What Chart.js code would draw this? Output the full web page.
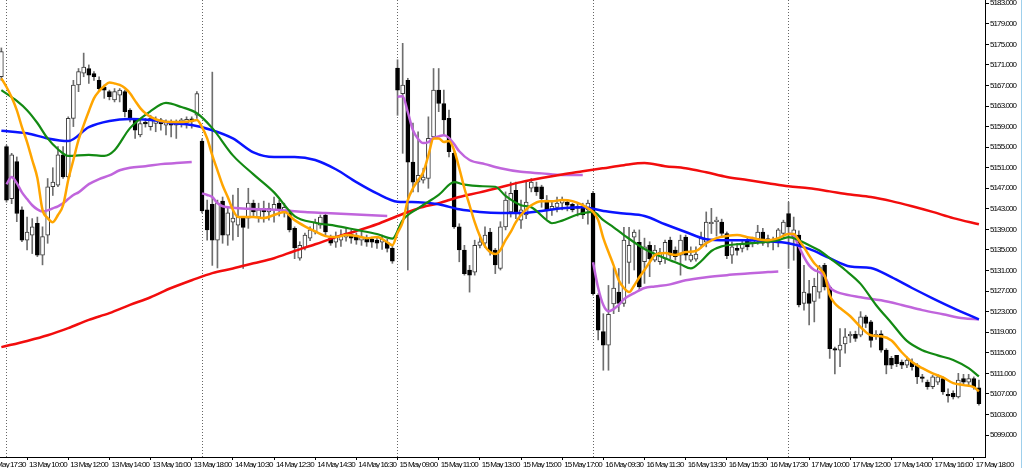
<!DOCTYPE html>
<html>
<head>
<meta charset="utf-8">
<script src="https://cdn.jsdelivr.net/npm/chart.js@4.4.1/dist/chart.umd.min.js"></script>
<style>
  html, body { margin: 0; padding: 0; background: #fff; }
  #wrap { position: relative; width: 1024px; height: 468px; }
  #edge { position: absolute; left: 1021px; top: 0; width: 1px; height: 468px; background: #9fd0ec; }
</style>
</head>
<body>
<div id="wrap"><canvas id="chart"></canvas><div id="edge"></div></div>
<script>
// 15 min bars, bar 0 = 13 May 09:00, first visible bar = 10 May 18:15
const firstBar = -1;

const open = [
  5168.7,
  // 13 May
  5155.1,5145.0,5152.2,5142.8,5136.9,5137.9,5140.2,5134.0,5137.9,5147.3,5147.6,5153.5,5149.2,5160.6,5167.1,5169.4,5170.3,5169.3,5168.0,
  5166.7,5165.8,5164.2,5165.1,5165.8,5162.2,5160.3,5157.4,5159.9,5159.0,5159.6,5160.3,5159.3,5159.6,5159.3,5159.6,5159.7,5160.5,5161.2,
  // 14 May
  5156.2,5142.8,5143.9,5136.9,5144.5,5137.9,5140.4,5139.8,5141.2,5141.2,5144.1,5141.4,5143.1,5142.4,5142.8,5144.1,5142.4,5142.2,5139.2,
  5133.4,5135.5,5137.3,5138.5,5139.8,5141.8,5137.3,5136.5,5136.9,5137.5,5138.1,5137.5,5136.9,5137.3,5137.1,5136.9,5136.5,5136.5,5135.3,
  // 15 May
  5170.4,5165.4,5168.0,5152.1,5148.2,5148.6,5148.9,5157.0,5166.1,5163.5,5160.6,5153.8,5139.5,5135.0,5131.1,5130.7,5135.9,5136.3,5138.5,
  5135.0,5131.4,5139.5,5142.4,5146.6,5140.8,5141.8,5147.0,5147.3,5147.3,5144.7,5142.9,5143.3,5144.1,5144.3,5143.9,5143.1,5143.1,5142.8,
  // 16 May
  5146.0,5126.2,5119.1,5116.5,5124.5,5126.8,5124.6,5132.6,5137.5,5136.5,5132.7,5135.9,5133.0,5132.7,5133.3,5136.9,5135.0,5134.0,5137.5,
  5133.0,5133.2,5136.0,5136.5,5140.1,5140.5,5140.4,5138.2,5134.0,5135.3,5135.3,5136.9,5136.3,5137.2,5138.5,5136.3,5136.5,5136.9,5138.2,
  // 17 May
  5142.1,5137.6,5137.9,5124.6,5126.5,5125.0,5126.8,5132.0,5127.8,5115.8,5115.5,5116.7,5118.3,5118.6,5118.4,5122.0,5121.0,5118.3,5118.7,
  5115.5,5113.9,5114.5,5113.2,5112.6,5113.2,5112.6,5110.3,5109.3,5108.4,5109.3,5110.0,5106.9,5107.1,5106.4,5110.0,5109.3,5110.0,5108.2
];
const high = [
  5174.3,
  5155.4,5153.8,5153.1,5143.4,5141.4,5141.1,5141.4,5139.5,5148.9,5151.0,5155.1,5155.1,5160.9,5168.0,5170.3,5173.3,5171.0,5169.7,5168.7,
  5167.1,5166.1,5166.4,5166.4,5166.1,5162.5,5160.6,5160.3,5160.6,5161.2,5160.9,5160.6,5160.3,5160.3,5160.3,5160.6,5160.9,5160.9,5165.8,
  5156.6,5144.7,5169.6,5144.7,5145.3,5143.1,5145.7,5147.0,5141.5,5147.0,5144.7,5144.1,5144.5,5144.1,5145.3,5144.7,5144.1,5142.8,5139.5,
  5136.6,5138.3,5139.5,5141.0,5141.8,5142.2,5137.9,5138.5,5138.9,5139.2,5138.9,5138.3,5138.5,5137.9,5137.5,5137.5,5137.9,5137.1,5135.7,
  5172.0,5175.2,5168.4,5159.7,5158.0,5150.9,5160.9,5170.3,5170.3,5166.1,5162.2,5154.4,5140.1,5135.9,5132.0,5136.9,5137.9,5139.5,5139.2,
  5135.3,5140.5,5146.3,5148.2,5148.2,5144.7,5148.2,5148.9,5148.2,5147.6,5145.6,5144.5,5145.3,5145.3,5144.7,5144.1,5144.1,5144.1,5144.7,
  5146.4,5126.5,5122.6,5128.1,5131.6,5131.4,5139.4,5139.4,5138.9,5138.9,5137.3,5136.6,5135.9,5135.3,5136.9,5137.5,5135.6,5137.9,5137.9,
  5135.6,5135.6,5138.5,5142.4,5143.1,5141.4,5141.0,5138.5,5136.6,5136.3,5136.9,5137.5,5137.5,5139.8,5139.2,5137.9,5137.5,5139.2,5140.8,
  5144.3,5141.4,5138.7,5132.0,5129.1,5129.5,5132.0,5132.4,5128.0,5116.1,5119.7,5119.7,5119.1,5119.2,5123.0,5122.3,5121.3,5119.3,5119.3,
  5115.8,5114.3,5114.5,5113.6,5114.2,5113.8,5112.9,5110.8,5109.7,5110.6,5110.8,5110.3,5108.0,5107.6,5111.0,5110.8,5110.8,5110.3,5109.7
];
const low = [
  5168.0,
  5144.3,5144.0,5140.5,5136.6,5135.0,5134.3,5133.7,5132.1,5136.3,5145.6,5147.3,5148.9,5148.9,5159.0,5165.8,5168.7,5167.4,5168.0,5165.8,
  5164.5,5164.2,5163.8,5163.8,5160.9,5159.9,5156.7,5157.0,5158.9,5158.3,5158.0,5158.3,5157.4,5157.0,5156.7,5158.9,5158.7,5158.7,5160.6,
  5142.2,5136.9,5132.0,5131.5,5136.3,5135.9,5136.9,5137.6,5131.4,5139.2,5141.4,5140.4,5140.4,5140.8,5140.4,5141.6,5141.4,5138.5,5133.3,
  5133.0,5135.0,5136.8,5138.1,5139.2,5137.9,5135.9,5135.5,5135.7,5136.7,5136.3,5136.1,5135.9,5135.7,5135.5,5135.3,5135.1,5134.6,5132.4,
  5161.2,5153.8,5131.1,5146.3,5146.3,5148.0,5147.0,5156.7,5161.9,5157.4,5153.1,5139.2,5132.7,5130.1,5126.8,5130.1,5135.4,5135.5,5134.0,
  5130.4,5131.1,5138.9,5141.4,5141.1,5139.2,5141.1,5146.3,5145.6,5143.3,5141.1,5141.7,5142.4,5142.8,5142.6,5142.4,5141.6,5141.1,5140.0,
  5126.2,5117.5,5111.6,5111.6,5122.6,5123.0,5124.0,5128.5,5131.1,5127.2,5128.5,5129.8,5132.7,5132.2,5132.4,5133.3,5133.0,5130.1,5133.0,
  5132.7,5132.8,5135.4,5135.6,5138.2,5137.7,5137.5,5133.3,5132.4,5134.0,5134.6,5135.0,5135.6,5136.1,5135.9,5135.6,5135.0,5135.6,5137.2,
  5131.4,5133.0,5123.9,5123.3,5120.4,5121.0,5125.6,5127.2,5113.9,5110.9,5112.3,5114.9,5117.0,5117.2,5118.1,5119.9,5116.1,5117.6,5115.1,
  5110.9,5111.9,5112.3,5111.9,5112.1,5111.6,5109.0,5109.3,5107.9,5108.0,5108.8,5106.9,5105.4,5106.0,5106.2,5108.8,5108.6,5107.9,5104.8
];
const close = [
  5173.6,
  5144.7,5153.5,5142.1,5136.9,5138.5,5139.5,5134.0,5137.6,5147.3,5148.2,5153.5,5149.2,5160.6,5167.1,5169.7,5170.6,5169.0,5168.7,5166.4,
  5166.1,5164.8,5165.8,5166.1,5161.9,5160.3,5158.3,5159.6,5159.5,5160.6,5160.3,5159.5,5159.9,5159.3,5159.9,5160.3,5160.4,5160.0,5165.4,
  5142.6,5138.9,5136.9,5144.1,5137.9,5142.2,5141.2,5141.4,5139.4,5144.1,5142.4,5142.8,5142.4,5143.1,5143.9,5142.8,5143.3,5138.9,5135.4,
  5135.9,5137.9,5138.9,5140.4,5141.4,5138.5,5136.3,5137.5,5137.9,5138.3,5137.3,5136.9,5137.5,5136.5,5136.5,5136.3,5137.1,5135.3,5132.8,
  5166.1,5167.1,5152.1,5148.2,5149.5,5149.2,5156.7,5166.1,5163.5,5160.3,5154.1,5139.5,5135.0,5130.4,5130.1,5135.9,5136.6,5137.9,5134.6,
  5132.1,5139.5,5144.7,5146.0,5142.1,5142.8,5144.3,5148.2,5146.3,5145.0,5142.8,5143.5,5144.1,5144.7,5143.7,5142.8,5143.5,5141.8,5144.1,
  5126.5,5119.4,5116.5,5122.5,5127.6,5124.6,5136.9,5135.9,5138.5,5127.8,5135.6,5133.3,5135.0,5134.6,5136.5,5134.0,5133.7,5136.9,5134.0,
  5134.0,5134.2,5137.3,5140.4,5140.4,5140.8,5138.2,5133.9,5135.6,5134.9,5136.2,5135.6,5136.9,5138.5,5136.3,5137.2,5136.9,5138.9,5140.4,
  5139.5,5138.9,5124.3,5126.8,5124.6,5127.9,5131.7,5127.8,5115.8,5115.5,5116.5,5118.1,5118.6,5117.8,5122.0,5120.7,5117.4,5118.6,5115.5,
  5112.6,5112.6,5112.9,5112.6,5113.6,5112.3,5110.3,5110.0,5108.4,5110.3,5110.3,5107.4,5106.6,5106.4,5109.7,5109.3,5110.0,5108.4,5105.1
];

// moving averages, read at sampled bars
const slowBars = [-1,4,8,12,16,20,24,28,32,36,40,44,48,52,56,60,64,68,72,76,80,84,88,92,96,100,104,108,112,116,120,124,128,132,136,140,144,148,152,156,160,164,168,172,176,180,184,189];
const slowValues = [5116.1,5117.3,5118.4,5119.8,5121.4,5122.7,5124.3,5125.8,5127.6,5129.1,5130.5,5131.4,5132.4,5133.4,5134.8,5136.1,5137.5,5138.7,5140.0,5141.6,5143.1,5144.1,5145.3,5146.2,5147.2,5148.2,5149.0,5149.7,5150.3,5150.9,5151.5,5151.9,5151.3,5150.9,5150.1,5149.2,5148.6,5148.0,5147.4,5147.0,5146.4,5145.8,5145.3,5144.5,5143.5,5142.4,5141.2,5140.0];

const midBars = slowBars;
const midValues = [5158.2,5157.7,5156.7,5156.2,5158.9,5160.1,5160.5,5160.3,5159.7,5159.3,5158.3,5156.7,5154.0,5153.1,5153.1,5152.5,5150.7,5148.2,5146.0,5144.4,5144.3,5143.9,5142.9,5142.4,5142.2,5142.2,5142.6,5143.1,5143.3,5142.6,5142.1,5141.6,5140.0,5138.5,5137.1,5136.9,5136.9,5136.7,5136.3,5135.2,5133.4,5131.8,5131.5,5129.7,5127.6,5125.6,5123.7,5121.5];

const greenBars = [-1,2,4,6,8,10,12,16,19,21,24,28,31,34,37,40,44,48,52,56,60,64,68,72,75,77,80,84,87,89,92,95,97,100,102,105,106,108,111,114,116,118,120,124,128,131,133,135,137,139,143,147,150,152,154,156,158,160,163,166,169,172,175,178,181,184,187,189];
const greenValues = [5166.1,5164.0,5162.2,5159.7,5156.7,5154.6,5153.3,5153.5,5153.3,5154.4,5158.7,5162.0,5163.6,5162.8,5161.6,5158.7,5153.4,5149.7,5146.2,5141.6,5140.3,5139.7,5138.9,5138.1,5137.2,5140.8,5143.1,5145.7,5148.2,5147.7,5147.4,5147.3,5145.5,5143.7,5143.3,5140.8,5140.2,5140.7,5141.9,5142.4,5140.8,5139.4,5137.9,5135.2,5133.4,5132.2,5131.4,5132.8,5134.8,5135.7,5136.2,5136.5,5136.9,5137.5,5136.9,5135.9,5134.9,5133.4,5131.1,5128.4,5124.3,5120.8,5117.3,5115.5,5114.5,5113.6,5112.0,5110.4];

const fastBars = [-1,0,1,2,3,4,5,6,7,8,9,10,11,12,13,14,15,16,17,18,19,20,21,22,23,24,25,26,27,28,30,32,34,36,37,38,39,40,41,42,43,44,45,46,48,50,52,54,56,58,60,62,64,66,68,70,72,74,75,76,77,78,79,80,81,82,83,84,85,86,87,88,89,90,91,92,93,94,95,96,97,98,99,100,102,104,106,108,110,112,113,114,115,116,117,118,119,120,121,122,123,124,125,126,128,130,132,134,136,138,140,142,144,146,148,150,152,153,154,155,156,157,158,159,160,161,162,164,166,168,170,172,174,176,178,180,182,184,186,188,189];
const fastValues = [5168.4,5166.7,5164.7,5162.2,5158.9,5156.0,5152.5,5149.0,5142.8,5141.2,5140.4,5141.8,5143.7,5148.6,5152.5,5156.4,5159.3,5162.0,5164.5,5165.9,5166.9,5167.6,5167.4,5167.1,5166.5,5165.5,5164.0,5162.6,5161.6,5160.9,5160.1,5159.9,5159.9,5160.1,5160.3,5158.9,5156.7,5153.4,5150.5,5147.6,5145.3,5142.8,5141.4,5141.4,5141.4,5141.2,5141.8,5142.4,5140.8,5139.6,5138.6,5137.7,5137.5,5137.9,5137.7,5137.3,5137.5,5136.5,5135.9,5138.3,5140.4,5144.7,5147.0,5148.6,5150.1,5153.4,5156.7,5156.7,5156.0,5156.2,5154.4,5150.9,5147.0,5143.7,5140.4,5137.7,5135.7,5134.6,5134.2,5135.0,5136.9,5138.5,5140.4,5141.8,5143.7,5144.5,5144.5,5144.7,5144.5,5143.7,5143.1,5142.4,5140.8,5137.3,5134.6,5132.0,5129.1,5127.6,5126.8,5128.1,5129.7,5131.1,5132.6,5134.0,5134.4,5134.0,5134.6,5134.8,5136.3,5137.3,5137.7,5137.9,5137.5,5137.1,5136.9,5137.3,5138.1,5138.1,5136.9,5135.5,5133.9,5132.4,5131.4,5130.1,5126.2,5124.6,5123.7,5122.1,5120.0,5118.4,5118.2,5117.4,5115.1,5113.2,5112.0,5111.0,5110.2,5109.1,5108.7,5108.3,5107.5];

// session line, restarts every day
const sessionBars = [
  [0,1,2,3,4,5,6,7,8,9,10,11,12,13,14,16,18,20,22,24,27,30,33,36],
  [38,39,40,41,42,44,47,50,54,58,62,66,70,74],
  [76,77,78,79,80,81,82,83,84,85,86,87,88,90,93,96,100,104,108,112],
  [114,115,116,117,118,119,120,122,124,126,129,132,136,140,144,148,150],
  [152,153,154,155,156,157,158,159,160,161,162,166,170,174,178,182,186,189]
];
const sessionValues = [
  [5147.8,5149.2,5148.0,5146.2,5144.9,5143.7,5142.9,5142.5,5142.7,5143.1,5143.5,5144.1,5144.9,5145.7,5146.2,5147.8,5148.8,5149.5,5150.5,5151.0,5151.3,5151.7,5151.9,5152.1],
  [5146.0,5145.7,5145.3,5144.1,5143.5,5143.2,5143.0,5142.9,5142.7,5142.4,5142.2,5142.0,5141.8,5141.6],
  [5164.8,5164.9,5161.8,5158.3,5156.6,5155.8,5156.0,5156.8,5157.1,5157.3,5156.8,5155.6,5154.2,5152.5,5151.7,5150.9,5150.2,5149.9,5149.6,5149.6],
  [5132.6,5127.6,5124.3,5123.1,5123.5,5124.3,5125.4,5126.6,5127.6,5127.9,5128.3,5129.1,5129.7,5130.1,5130.4,5130.7,5130.8],
  [5138.3,5137.7,5135.7,5133.6,5132.0,5131.1,5130.7,5129.9,5127.8,5127.0,5126.6,5125.8,5125.2,5124.3,5123.3,5122.5,5121.7,5121.5]
];

const yTicks = [5099,5103,5107,5111,5115,5119,5123,5127,5131,5135,5139,5143,5147,5151,5155,5159,5163,5167,5171,5175,5179,5183];
const xTickBars = [-4,4,12,20,28,36,44,52,60,68,76,84,92,100,108,116,124,132,140,148,156,164,172,180,188];
const xTickLabels = ['10 May 17:30','13 May 10:00','13 May 12:00','13 May 14:00','13 May 16:00','13 May 18:00',
  '14 May 10:30','14 May 12:30','14 May 14:30','14 May 16:30','15 May 09:00','15 May 11:00','15 May 13:00',
  '15 May 15:00','15 May 17:00','16 May 09:30','16 May 11:30','16 May 13:30','16 May 15:30','16 May 17:30',
  '17 May 10:00','17 May 12:00','17 May 14:00','17 May 16:00','17 May 18:00'];
const daySepBars = [0, 38, 76, 114, 152];

const barX = open.map((o, k) => firstBar + k);
const wicks = barX.map((x, k) => ({x: x, y: [low[k], high[k]]}));
const bodies = barX.map((x, k) => ({x: x, y: [open[k], close[k]]}));
const bodyFill = open.map((o, k) => close[k] >= o ? '#ffffff' : '#000000');
const bodyEdge = open.map((o, k) => close[k] >= o ? '#3a3a3a' : '#000000');

function maLine(xs, ys, color, width, order) {
  return {
    type: 'line',
    data: xs.map((x, k) => ({x: x, y: ys[k]})),
    borderColor: color,
    borderWidth: width,
    pointRadius: 0,
    cubicInterpolationMode: 'monotone',
    fill: false,
    order: order
  };
}

// the terminal font is narrow, tighten the axis text
const narrowText = {
  id: 'narrowText',
  beforeDraw(chart) { chart.ctx.letterSpacing = '-0.9px'; }
};

const tickFont = { family: '"Liberation Sans", Arial, sans-serif', size: 8 };
const xMin = -1.263, xMax = 190.18;

const datasets = [
  maLine(fastBars, fastValues, '#ffa500', 2.5, 0),
  maLine(greenBars, greenValues, '#138a13', 2.2, 1),
  maLine(midBars, midValues, '#0a14ff', 2.5, 2),
  maLine(slowBars, slowValues, '#f20d0d', 2.5, 3)
];
sessionBars.forEach((xs, d) => datasets.push(maLine(xs, sessionValues[d], '#c065dc', 2.5, 4)));
datasets.push({
  data: bodies, backgroundColor: bodyFill, borderColor: bodyEdge, borderWidth: 1,
  borderSkipped: false, barThickness: 4, grouped: false, order: 5
});
datasets.push({
  data: wicks, backgroundColor: '#6e6e6e', borderWidth: 0,
  barThickness: 1, grouped: false, order: 6
});

new Chart(document.getElementById('chart'), {
  type: 'bar',
  data: { datasets: datasets },
  plugins: [narrowText],
  options: {
    responsive: true,
    maintainAspectRatio: false,
    devicePixelRatio: 1,
    animation: false,
    layout: { padding: 0, autoPadding: false },
    plugins: { legend: { display: false }, tooltip: { enabled: false } },
    scales: {
      x: {
        type: 'linear', position: 'bottom', min: xMin, max: xMax, offset: false,
        afterBuildTicks: s => { s.ticks = xTickBars.map(v => ({value: v})); },
        afterFit: s => { s.height = 11; s.paddingLeft = 0; s.paddingRight = 0; },
        ticks: {
          callback: (v, k) => xTickLabels[k],
          align: 'start', autoSkip: false, maxRotation: 0, minRotation: 0,
          labelOffset: 2, padding: 0, color: '#000', font: tickFont
        },
        grid: { drawOnChartArea: false, offset: false, tickLength: 3, color: '#000' },
        border: { color: '#000', width: 1 }
      },
      xSep: {
        type: 'linear', position: 'bottom', min: xMin, max: xMax, offset: false,
        afterBuildTicks: s => { s.ticks = daySepBars.map(v => ({value: v})); },
        afterFit: s => { s.height = 0; s.paddingLeft = 0; s.paddingRight = 0; },
        ticks: { display: false },
        grid: { drawOnChartArea: true, drawTicks: false, offset: false, color: '#666', lineWidth: 1 },
        border: { display: false, dash: [1, 2] }
      },
      y: {
        type: 'linear', position: 'right', min: 5094.72, max: 5183.63,
        afterBuildTicks: s => { s.ticks = yTicks.map(v => ({value: v})); },
        afterFit: s => { s.width = 39; s.paddingTop = 0; s.paddingBottom = 0; },
        ticks: { callback: v => v.toFixed(3), padding: 1, color: '#000', font: tickFont },
        grid: { drawOnChartArea: false, tickLength: 4, color: '#000' },
        border: { color: '#000', width: 1 }
      }
    }
  }
});
</script>
</body>
</html>
